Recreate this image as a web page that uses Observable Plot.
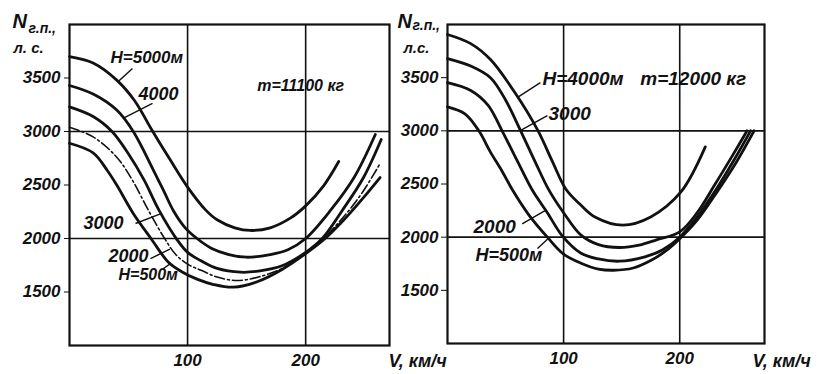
<!DOCTYPE html>
<html><head><meta charset="utf-8">
<script src="https://cdn.jsdelivr.net/npm/d3@7"></script>
<script src="https://cdn.jsdelivr.net/npm/@observablehq/plot@0.6"></script>
<style>
html,body{margin:0;padding:0;background:#fff;}
#chart{position:relative;width:818px;height:374px;overflow:hidden;background:#fff;}
#chart svg{position:absolute;top:0;overflow:visible;}
#chart svg text{font-weight:bold !important;font-style:italic !important;font-family:'Liberation Sans',Arial,sans-serif !important;}
</style></head><body><div id="chart"></div>
<script>
// ---------- DATA (V in km/h, N in hp) ----------
const yTicks = [1500, 2000, 2500, 3000, 3500];
const xTicks = [100, 200];
const gridX = [100, 200];
const gridY = [2000, 3000];

// left panel: m = 11100 kg
const left5000 = [[0,3700],[20,3640],[40,3480],[55,3290],[70,3010],[85,2740],[100,2480],[115,2270],[125,2175],[140,2100],[153,2075],[170,2100],[187,2190],[200,2305],[215,2490],[228,2720]];
const left4000 = [[0,3430],[20,3350],[40,3200],[54,3000],[71,2640],[80,2440],[88,2260],[98,2100],[108,2000],[120,1910],[135,1850],[150,1825],[170,1850],[185,1895],[200,2000],[221,2262],[241,2570],[259,2972]];
const left3000 = [[0,3230],[20,3140],[36,3000],[50,2790],[63,2550],[76,2260],[91,1990],[100,1870],[111,1794],[125,1720],[145,1685],[160,1695],[180,1745],[200,1870],[214,2000],[231,2262],[249,2570],[264,2925]];
const left2000 = [[0,3040],[20,2950],[40,2760],[53,2550],[67,2260],[80,2010],[90,1850],[100,1760],[112,1700],[125,1640],[142,1607],[160,1640],[180,1720],[200,1865],[215,2000],[232,2200],[248,2430],[263,2700]];
const left500  = [[0,2890],[20,2800],[32,2636],[40,2500],[54,2234],[69,2000],[84,1775],[95,1690],[108,1620],[122,1570],[139,1545],[160,1600],[180,1710],[200,1858],[216,1995],[232,2170],[248,2370],[263,2570]];

// right panel: m = 12000 kg
const right4000 = [[0,3906],[20,3820],[37,3670],[58,3360],[78,3000],[90,2720],[102,2450],[115,2300],[127,2190],[151,2113],[175,2190],[201,2425],[222,2849]];
const right3000 = [[0,3680],[20,3610],[37,3500],[50,3290],[63,3000],[75,2720],[87,2450],[100,2230],[115,2019],[130,1930],[148,1903],[165,1925],[180,1975],[200,2050],[215,2230],[230,2490],[245,2760],[258,3000]];
const right2000 = [[0,3453],[20,3380],[35,3240],[47,3000],[60,2720],[73,2443],[86,2230],[99,2010],[115,1849],[130,1795],[148,1774],[170,1815],[185,1880],[200,2000],[215,2190],[232,2460],[247,2730],[261,3000]];
const right500  = [[0,3226],[15,3160],[27,3000],[37,2800],[47,2620],[56,2443],[70,2210],[86,2000],[100,1840],[115,1755],[130,1700],[143,1689],[160,1710],[175,1780],[188,1870],[200,1985],[215,2160],[233,2440],[249,2710],[264,3000]];

// annotations (text, anchor V, anchor N) and leader lines (V1,N1 -> V2,N2)
const leftLabels = [
  {t:"H=5000м", V:34.7, N:3692, s:17},
  {t:"4000", V:58.4, N:3346, s:18},
  {t:"m=11100 кг", V:159, N:3430, s:16},
  {t:"3000", V:11.9, N:2140, s:18},
  {t:"2000", V:33, N:1832, s:18},
  {t:"H=500м", V:41.5, N:1664, s:16}
];
const leftLeaders = [
  {V1:53.3,N1:3589,V2:41.5,N2:3470},
  {V1:70.3,N1:3262,V2:45.7,N2:3125},
  {V1:55.9,N1:2140,V2:77,N2:2230},
  {V1:68.6,N1:1813,V2:85,N2:1900},
  {V1:79.6,N1:1720,V2:85.5,N2:1765}
];
const rightLabels = [
  {t:"H=4000м", V:81.8, N:3492, s:19},
  {t:"m=12000 кг", V:166, N:3492, s:19},
  {t:"3000", V:87, N:3163, s:19},
  {t:"2000", V:22.4, N:2100, s:19},
  {t:"H=500м", V:24.1, N:1827, s:18}
];
const rightLeaders = [
  {V1:80,N1:3454,V2:61,N2:3320},
  {V1:86,N1:3144,V2:63,N2:3005},
  {V1:64.3,N1:2125,V2:84,N2:2250},
  {V1:77.5,N1:1893,V2:87,N2:1990}
];

// ---------- BUILD ----------
const toRows = (pts, H) => pts.map(([V, N]) => ({V, N, H}));
const FONT = "'Liberation Sans', Arial, sans-serif";
const T = {fontFamily: FONT, fontWeight: "bold", fontStyle: "italic", fill: "#111"};

function panel({width, ml, mr, mt, mb, xMax, solid, dashed, labels, leaders, tickSize, tickPadding, titleDx, subDx, subDy, unitDx, unitText, xlabDx, xlabDy}) {
  const marks = [
    Plot.ruleX(gridX, {stroke: "#111", strokeWidth: 1.6}),
    Plot.ruleY(gridY, {stroke: "#111", strokeWidth: 1.6}),
    Plot.frame({stroke: "#111", strokeWidth: 2.2}),
    Plot.line(solid, {x: "V", y: "N", z: "H", curve: "catmull-rom", stroke: "#111", strokeWidth: 2.8}),
  ];
  if (dashed) marks.push(Plot.line(dashed, {x: "V", y: "N", curve: "catmull-rom", stroke: "#111", strokeWidth: 1.6, strokeDasharray: "10,3,2,3"}));
  marks.push(
    Plot.link(leaders, {x1: "V1", y1: "N1", x2: "V2", y2: "N2", stroke: "#111", strokeWidth: 1.4}),
    Plot.text(labels, {x: "V", y: "N", text: "t", fontSize: "s", textAnchor: "start", ...T}),
    Plot.text(["N"], {frameAnchor: "top-left", dx: titleDx, dy: 3, text: d => d, textAnchor: "start", lineAnchor: "bottom", fontSize: 20, ...T}),
    Plot.text(["г.п.,"], {frameAnchor: "top-left", dx: subDx, dy: subDy, text: d => d, textAnchor: "start", lineAnchor: "bottom", fontSize: 14, ...T}),
    Plot.text([unitText], {frameAnchor: "top-left", dx: unitDx, dy: 28, text: d => d, textAnchor: "start", lineAnchor: "bottom", fontSize: 15, ...T}),
    Plot.text(["V, км/ч"], {frameAnchor: "bottom-right", dx: xlabDx, dy: xlabDy, text: d => d, textAnchor: "start", lineAnchor: "bottom", fontSize: 18, ...T})
  );
  return Plot.plot({
    width, height: 374,
    marginLeft: ml, marginRight: mr, marginTop: mt, marginBottom: mb,
    style: {background: "transparent", fontFamily: FONT, fontSize: "17px", fontWeight: "bold", fontStyle: "italic", color: "#111", overflow: "visible"},
    x: {domain: [0, xMax], ticks: xTicks, tickSize: 0, tickPadding: 8, label: null, tickFormat: d => String(d)},
    y: {domain: [1000, 4000], ticks: yTicks, tickSize, tickPadding, label: null, tickFormat: d => String(d)},
    marks
  });
}

const leftSolid = [...toRows(left5000, "5000"), ...toRows(left4000, "4000"), ...toRows(left3000, "3000"), ...toRows(left500, "500")];
const leftDashed = toRows(left2000, "2000");
const rightSolid = [...toRows(right4000, "4000"), ...toRows(right3000, "3000"), ...toRows(right2000, "2000"), ...toRows(right500, "500")];

const L = panel({width: 470, ml: 69, mr: 81, mt: 24, mb: 29, xMax: 271, solid: leftSolid, dashed: leftDashed,
  labels: leftLabels, leaders: leftLeaders, tickSize: 5, tickPadding: 4,
  titleDx: -57, subDx: -41, subDy: 8, unitDx: -56, unitText: "л. с.", xlabDx: -1, xlabDy: 21});
const R = panel({width: 423, ml: 52, mr: 54, mt: 24, mb: 31, xMax: 273, solid: rightSolid, dashed: null,
  labels: rightLabels, leaders: rightLeaders, tickSize: 6, tickPadding: 3,
  titleDx: -50, subDx: -35, subDy: 5, unitDx: -44, unitText: "л.с.", xlabDx: -12, xlabDy: 23});
L.style.left = "0px";
R.style.left = "395px";
const c = document.getElementById("chart");
c.appendChild(L);
c.appendChild(R);
</script></body></html>
